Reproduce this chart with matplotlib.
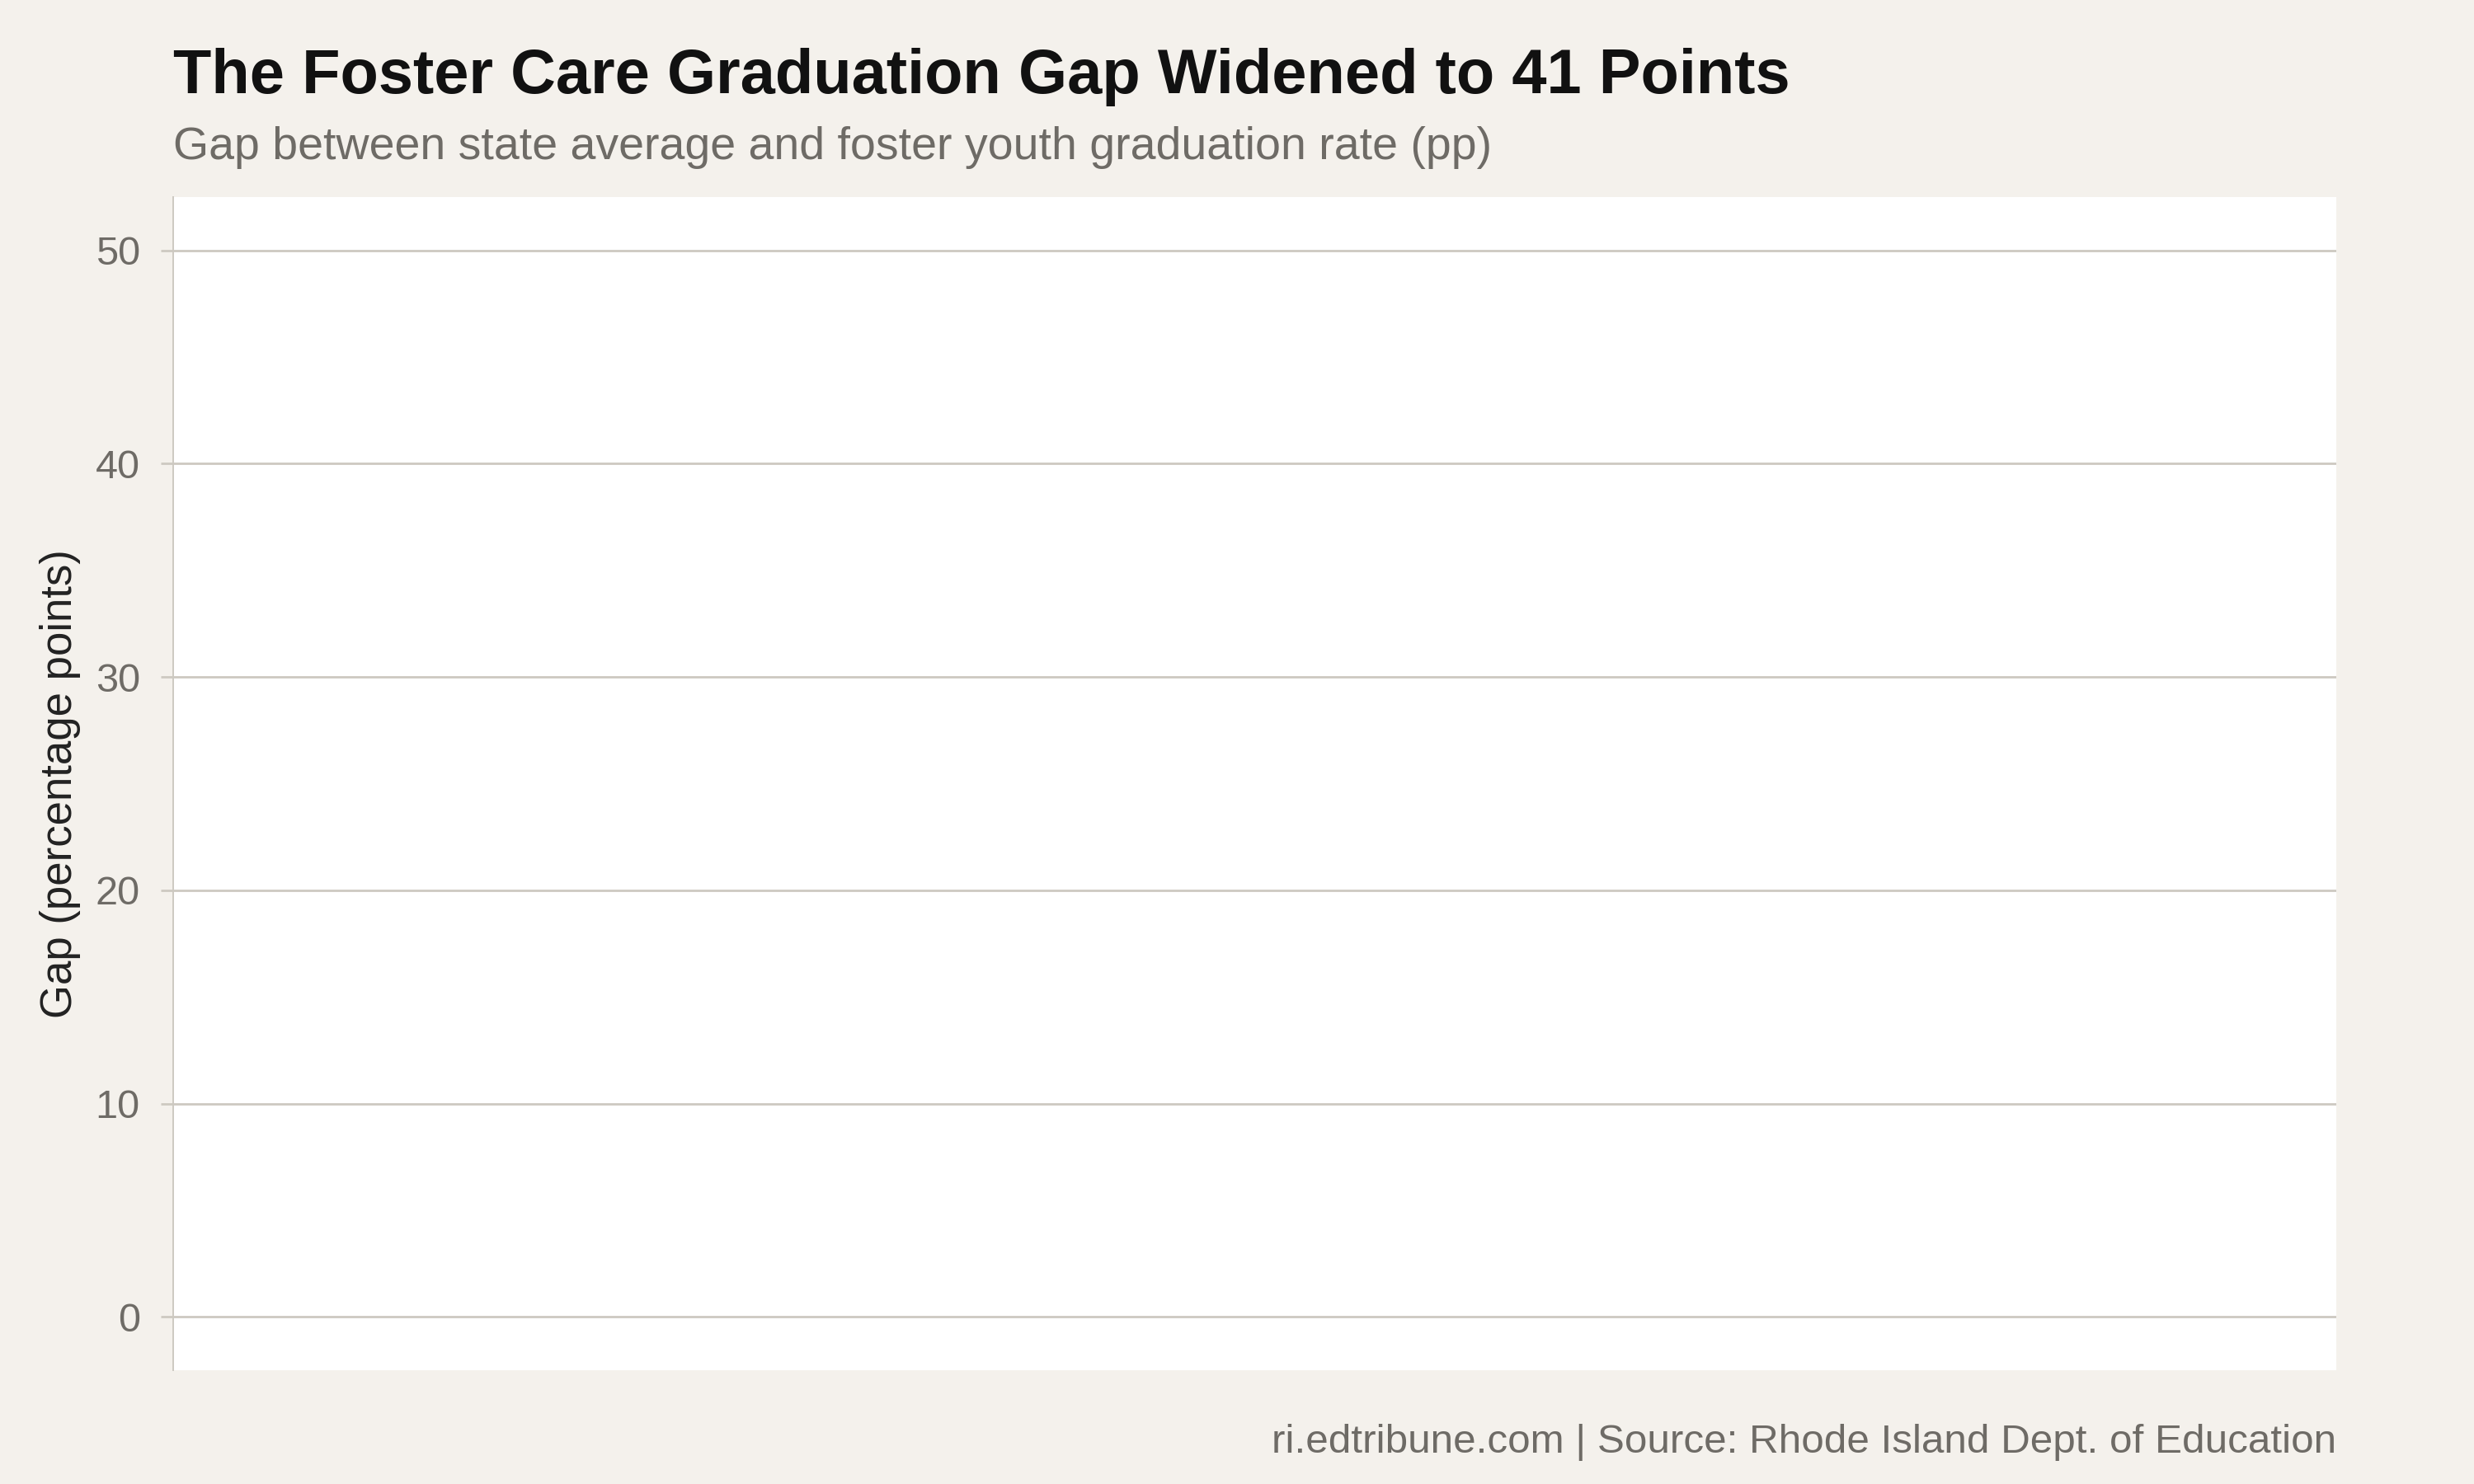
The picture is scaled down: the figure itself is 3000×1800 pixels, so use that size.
import matplotlib
matplotlib.use("Agg")
import matplotlib.pyplot as plt

# Data (the reference chart shows no data marks)
years = []
gap_pp = []
y_ticks = [0, 10, 20, 30, 40, 50]
y_tick_labels = ["0", "10", "20", "30", "40", "50"]

title = "The Foster Care Graduation Gap Widened to 41 Points"
subtitle = "Gap between state average and foster youth graduation rate (pp)"
ylabel = "Gap (percentage points)"
caption = "ri.edtribune.com | Source: Rhode Island Dept. of Education"

plt.rcParams["font.family"] = ["Liberation Sans", "DejaVu Sans"]

BG = "#f4f1ec"
GRID = "#cdc9c1"
TICK_TXT = "#6e6b66"

fig = plt.figure(figsize=(15, 9), dpi=200, facecolor=BG)
ax = fig.add_axes([0.07, 0.0767, 0.8743, 0.7905])
ax.set_facecolor("white")

ax.plot(years, gap_pp, color="#1f4e79")

ax.set_ylim(-2.5, 52.5)
ax.set_xlim(0, 1)
ax.set_yticks(y_ticks)
ax.set_yticklabels(y_tick_labels)
ax.set_xticks([])

ax.grid(axis="y", color=GRID, linewidth=1.0)
ax.set_axisbelow(True)
for s in ["top", "right", "bottom"]:
    ax.spines[s].set_visible(False)
ax.spines["left"].set_color(GRID)
ax.spines["left"].set_linewidth(0.7)

ax.tick_params(axis="y", length=5.5, width=1.0, color=GRID, pad=9,
               labelsize=17.5, labelcolor=TICK_TXT)

fig.text(0.07, 0.9372, title, fontsize=27.3, fontweight="bold",
         color="#111111", ha="left", va="baseline")
fig.text(0.07, 0.8928, subtitle, fontsize=20, color=TICK_TXT,
         ha="left", va="baseline")
fig.text(0.0243, 0.4717, ylabel, fontsize=19, color="#222222",
         rotation=90, ha="center", va="center")
fig.text(0.9443, 0.0211, caption, fontsize=17.8, color=TICK_TXT,
         ha="right", va="baseline")

fig.savefig("out.png", dpi=200, facecolor=BG)
